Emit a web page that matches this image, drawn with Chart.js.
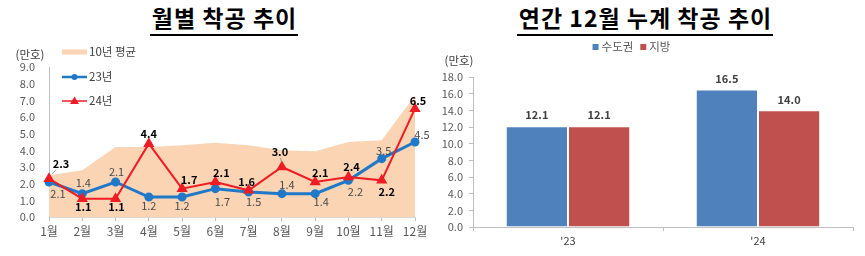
<!DOCTYPE html>
<html>
<head>
<meta charset="utf-8">
<script src="https://cdn.jsdelivr.net/npm/chart.js@4.4.1/dist/chart.umd.min.js"></script>
<style>
  body { margin: 0; background: #fff; width: 865px; height: 256px; position: relative; overflow: hidden; }
  .title { position: absolute; top: 4px; text-align: center; font-family: "Noto Sans CJK KR", sans-serif; font-weight: bold; font-size: 23px; letter-spacing: 1px; line-height: 27px; color: #000; }
  .title span { border-bottom: 2px solid #000; padding: 0 1px 0 2px; }
  canvas { position: absolute; }
</style>
</head>
<body>
<div class="title" style="left:0;width:448px;"><span>월별 착공 추이</span></div>
<div class="title" style="left:440px;width:410px;"><span>연간 12월 누계 착공 추이</span></div>
<canvas id="monthly" width="440" height="216" style="left:0;top:40px;"></canvas>
<canvas id="annual" width="425" height="216" style="left:440px;top:40px;"></canvas>
<script>
const FONT = '"Noto Sans CJK KR", "Noto Sans", sans-serif';

// 월별 착공 (만호)
const months = ["1월", "2월", "3월", "4월", "5월", "6월", "7월", "8월", "9월", "10월", "11월", "12월"];
const avg10y = [2.5, 2.8, 4.2, 4.2, 4.3, 4.45, 4.3, 4.0, 3.95, 4.5, 4.6, 7.3];
const y2023 = [2.1, 1.4, 2.1, 1.2, 1.2, 1.7, 1.5, 1.4, 1.4, 2.2, 3.5, 4.5];
const y2024 = [2.3, 1.1, 1.1, 4.4, 1.7, 2.1, 1.6, 3.0, 2.1, 2.4, 2.2, 6.5];
const monthlyTicks = [0, 1, 2, 3, 4, 5, 6, 7, 8, 9];

// 연간 12월 누계 (만호)
const years = ["'23", "'24"];
const capital = [12.1, 16.5];
const regional = [12.1, 14.0];
const annualTicks = [0, 2, 4, 6, 8, 10, 12, 14, 16, 18];

// label placement (dx, dy from point)
const off2023 = [[9, 12], [1, -11], [1, -10], [0, 9], [0, 9], [7, 13], [5, 10], [5, -9], [6, 8], [7, 11], [2, -8], [7, -7]];
const off2024 = [[12, -15], [1, 8], [1, 8], [0, -10], [7, -9], [6, -9], [-2, -9], [-2, -15], [5, -9], [3, -10], [5, 11], [3, -8]];
const leader2024 = [true, false, false, false, false, false, false, true, false, false, false, false];

const blue = "#1F78C8";
const red = "#EE1C25";
const peach = "#FBD4B4";

const pointLabels = {
  id: "pointLabels",
  afterDatasetsDraw(chart) {
    const ctx = chart.ctx;
    ctx.save();
    ctx.textAlign = "center";
    ctx.textBaseline = "middle";
    const draw = (dsIndex, values, offs, font, color, leaders) => {
      chart.getDatasetMeta(dsIndex).data.forEach((pt, i) => {
        const [dx, dy] = offs[i];
        if (leaders && leaders[i]) {
          ctx.strokeStyle = "#7f7f7f";
          ctx.lineWidth = 0.8;
          ctx.beginPath();
          ctx.moveTo(pt.x + dx * 0.25, pt.y + dy * 0.3);
          ctx.lineTo(pt.x + dx * 0.6, pt.y + dy * 0.6);
          ctx.stroke();
        }
        ctx.font = font;
        ctx.fillStyle = color;
        ctx.fillText(values[i].toFixed(1), pt.x + dx, pt.y + dy);
      });
    };
    draw(1, y2023, off2023, "11px " + FONT, "#4a4a4a");
    draw(2, y2024, off2024, "bold 11px " + FONT, "#000", leader2024);
    ctx.restore();
  }
};

const monthlyLegend = {
  id: "monthlyLegend",
  afterDraw(chart) {
    const ctx = chart.ctx;
    ctx.save();
    ctx.font = "11.5px " + FONT;
    ctx.textBaseline = "middle";
    ctx.fillStyle = "#404040";
    ctx.textAlign = "center";
    ctx.fillText("(만호)", 30, 15);
    ctx.textAlign = "left";
    const rows = [
      { y: 12, text: "10년 평균" },
      { y: 37, text: "23년" },
      { y: 61, text: "24년" }
    ];
    // swatch 1
    ctx.strokeStyle = peach;
    ctx.lineWidth = 5;
    ctx.beginPath(); ctx.moveTo(62, rows[0].y); ctx.lineTo(87, rows[0].y); ctx.stroke();
    // swatch 2
    ctx.strokeStyle = blue;
    ctx.lineWidth = 2.5;
    ctx.beginPath(); ctx.moveTo(62, rows[1].y); ctx.lineTo(87, rows[1].y); ctx.stroke();
    ctx.fillStyle = blue;
    ctx.beginPath(); ctx.arc(74.5, rows[1].y, 3, 0, Math.PI * 2); ctx.fill();
    // swatch 3
    ctx.strokeStyle = red;
    ctx.lineWidth = 1.5;
    ctx.beginPath(); ctx.moveTo(62, rows[2].y); ctx.lineTo(87, rows[2].y); ctx.stroke();
    ctx.fillStyle = red;
    ctx.beginPath();
    ctx.moveTo(74.5, rows[2].y - 4.5); ctx.lineTo(79, rows[2].y + 3); ctx.lineTo(70, rows[2].y + 3);
    ctx.closePath(); ctx.fill();
    ctx.fillStyle = "#404040";
    rows.forEach(r => ctx.fillText(r.text, 89, r.y));
    ctx.restore();
  }
};

new Chart(document.getElementById("monthly"), {
  type: "line",
  data: {
    labels: months,
    datasets: [
      {
        label: "10년 평균",
        data: avg10y,
        fill: "origin",
        backgroundColor: peach,
        borderWidth: 0,
        pointRadius: 0,
        order: 3
      },
      {
        label: "23년",
        data: y2023,
        borderColor: blue,
        backgroundColor: blue,
        borderWidth: 3,
        pointStyle: "circle",
        pointRadius: 3,
        order: 2
      },
      {
        label: "24년",
        data: y2024,
        borderColor: red,
        backgroundColor: red,
        borderWidth: 2,
        pointStyle: "triangle",
        pointRadius: 4.5,
        order: 1
      }
    ]
  },
  options: {
    responsive: false,
    animation: false,
    layout: { padding: { top: 27, right: 25, left: 0, bottom: 0 } },
    plugins: { legend: { display: false }, tooltip: { enabled: false } },
    scales: {
      x: {
        offset: false,
        grid: { drawOnChartArea: false, tickLength: 4, color: "#bfbfbf" },
        border: { color: "#d9d9d9" },
        ticks: { font: { family: FONT, size: 12 }, color: "#595959", padding: 3, maxRotation: 0, autoSkip: false },
        afterFit: s => { s.height = 39; }
      },
      y: {
        min: 0,
        max: 9,
        afterBuildTicks: s => { s.ticks = monthlyTicks.map(v => ({ value: v })); },
        grid: { display: false, drawTicks: false },
        border: { display: true, color: "#bfbfbf" },
        ticks: { font: { family: FONT, size: 11 }, color: "#595959", padding: 14, callback: v => v.toFixed(1) },
        afterFit: s => { s.width = 49; }
      }
    }
  },
  plugins: [pointLabels, monthlyLegend]
});

const barLabels = {
  id: "barLabels",
  afterDatasetsDraw(chart) {
    const ctx = chart.ctx;
    ctx.save();
    ctx.font = "bold 11px " + FONT;
    ctx.fillStyle = "#404040";
    ctx.textAlign = "center";
    ctx.textBaseline = "middle";
    chart.data.datasets.forEach((ds, i) => {
      chart.getDatasetMeta(i).data.forEach((bar, j) => {
        ctx.fillText(ds.data[j].toFixed(1), bar.x, bar.y - 11);
      });
    });
    ctx.restore();
  }
};

const annualLegend = {
  id: "annualLegend",
  afterDraw(chart) {
    const ctx = chart.ctx;
    ctx.save();
    ctx.font = "11.5px " + FONT;
    ctx.textBaseline = "middle";
    ctx.fillStyle = "#404040";
    ctx.textAlign = "center";
    ctx.fillText("(만호)", 19, 21);
    ctx.textAlign = "left";
    const items = chart.data.datasets.map(ds => ({ text: ds.label, color: ds.backgroundColor }));
    const widths = items.map(it => 10 + ctx.measureText(it.text).width);
    const total = widths.reduce((a, b) => a + b, 0) + 6;
    let x = 192 - total / 2;
    const y = 7;
    items.forEach((it, i) => {
      ctx.fillStyle = it.color;
      ctx.fillRect(x, y - 3, 6, 6);
      ctx.fillStyle = "#595959";
      ctx.fillText(it.text, x + 9, y);
      x += widths[i] + 6;
    });
    ctx.restore();
  }
};

new Chart(document.getElementById("annual"), {
  type: "bar",
  data: {
    labels: years,
    datasets: [
      {
        label: "수도권",
        data: capital,
        backgroundColor: "#4F81BD",
        borderColor: "rgba(255,255,255,0.45)",
        borderWidth: 1,
        barPercentage: 1,
        categoryPercentage: 0.655
      },
      {
        label: "지방",
        data: regional,
        backgroundColor: "#C0504D",
        borderColor: "rgba(255,255,255,0.45)",
        borderWidth: 1,
        barPercentage: 1,
        categoryPercentage: 0.655
      }
    ]
  },
  options: {
    responsive: false,
    animation: false,
    layout: { padding: { top: 37, right: 12, left: 0, bottom: 0 } },
    plugins: { legend: { display: false }, tooltip: { enabled: false } },
    scales: {
      x: {
        grid: { drawOnChartArea: false, offset: true, tickLength: 4, color: "#bfbfbf" },
        border: { color: "#bfbfbf" },
        ticks: { font: { family: FONT, size: 11 }, color: "#404040", padding: 3 },
        afterFit: s => { s.height = 29; }
      },
      y: {
        min: 0,
        max: 18,
        afterBuildTicks: s => { s.ticks = annualTicks.map(v => ({ value: v })); },
        grid: { drawOnChartArea: false, tickLength: 4, color: "#bfbfbf" },
        border: { color: "#bfbfbf" },
        ticks: { font: { family: FONT, size: 11 }, color: "#595959", padding: 6, callback: v => v.toFixed(1) },
        afterFit: s => { s.width = 33; }
      }
    }
  },
  plugins: [barLabels, annualLegend]
});
</script>
</body>
</html>
